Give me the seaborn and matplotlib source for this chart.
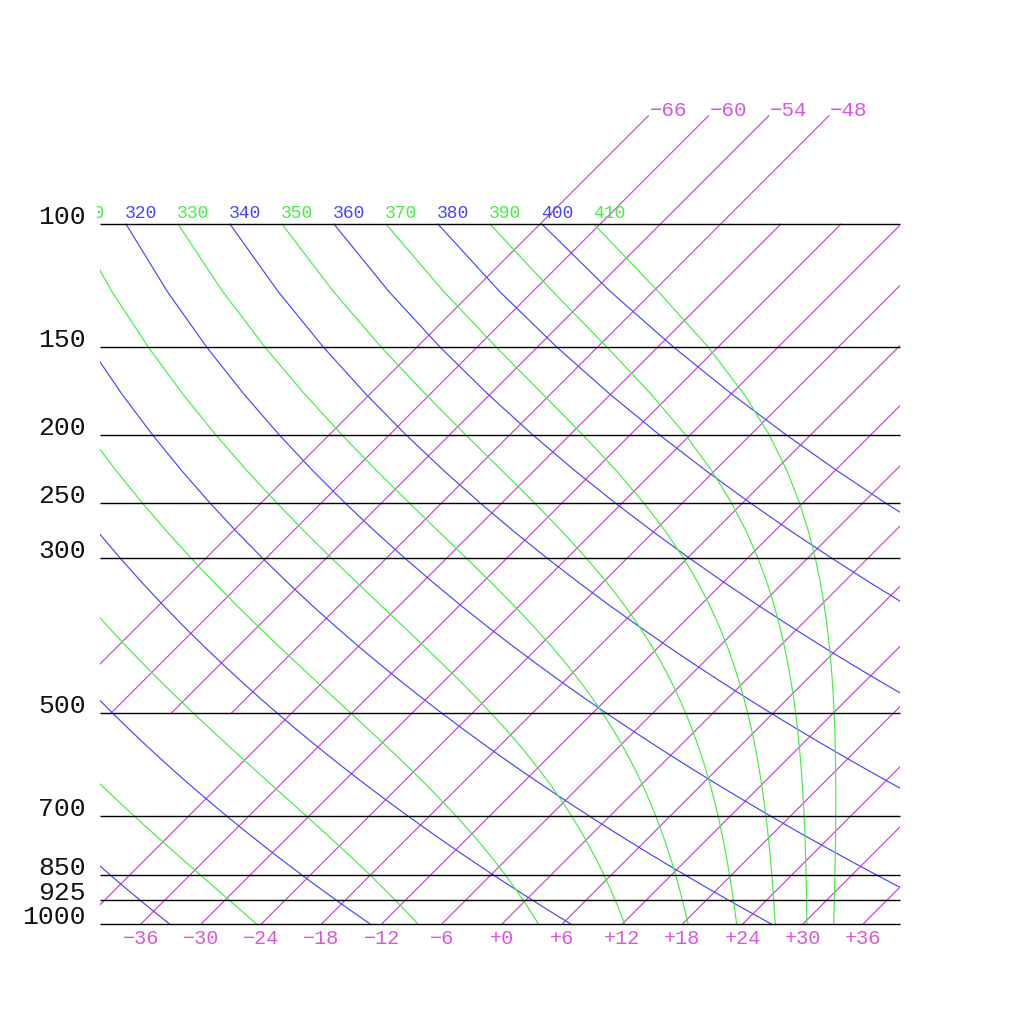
import numpy as np
import pandas as pd
import matplotlib
matplotlib.use("Agg")
import matplotlib.pyplot as plt
import seaborn as sns
from matplotlib.patches import Rectangle
from matplotlib.transforms import offset_copy

# chart values
PRESSURE_LEVELS = [1000, 925, 850, 700, 500, 300, 250, 200, 150, 100]
ISOTHERMS_LOW = [-42, -36, -30, -24, -18, -12, -6, 0, 6, 12, 18, 24, 30, 36]   # 1000 -> 100 hPa
ISOTHERMS_HIGH = [-66, -60, -54, -48]                                          # 500 -> 70 hPa
THETA_DRY = [240, 260, 280, 300, 320, 340, 360, 380, 400]
THETA_E = [250, 270, 290, 310, 330, 350, 370, 390, 410]
P_GRID = np.arange(100, 1001, 25)

# diagram geometry (skew in degC per decade of pressure)
SKEW = 69.8
XMIN, XMAX = -40.08, 39.68

ISO_COLOR = "#cc44cc"
ISO_TEXT = "#dd55dd"
DRY_COLOR = "#4646ff"
MOIST_COLOR = "#44ee44"

RD, CPD, LV, EPS = 287.04, 1005.7, 2.501e6, 0.622
KAPPA = RD / CPD


def skew_x(t, p):
    return np.asarray(t) + SKEW * np.log10(1000.0 / np.asarray(p))


def moist_lapse(t, p):
    tc = t - 273.15
    es = 6.112 * np.exp(17.67 * tc / (tc + 243.5))
    rs = EPS * es / (p - es)
    return (RD * t + LV * rs) / (p * (CPD + LV ** 2 * rs * EPS / (RD * t ** 2)))


def moist_profile(theta_e, pres):
    # start at the top where theta ~ theta_e, integrate downward
    t = theta_e * (pres[0] / 1000.0) ** KAPPA
    out = [t]
    for p0, p1 in zip(pres[:-1], pres[1:]):
        n = 20
        h = (p1 - p0) / n
        p = p0
        for _ in range(n):
            k1 = moist_lapse(t, p)
            k2 = moist_lapse(t + h * k1 / 2, p + h / 2)
            k3 = moist_lapse(t + h * k2 / 2, p + h / 2)
            k4 = moist_lapse(t + h * k3, p + h)
            t += h * (k1 + 2 * k2 + 2 * k3 + k4) / 6
            p += h
        out.append(t)
    return np.array(out) - 273.15


rows = []
for t in ISOTHERMS_LOW:
    for p in (1000, 100):
        rows.append(("iso", t, skew_x(t, p), p))
for t in ISOTHERMS_HIGH:
    for p in (500, 70):
        rows.append(("iso", t, skew_x(t, p), p))
for th in THETA_DRY:
    temps = th * (P_GRID / 1000.0) ** KAPPA - 273.15
    for t, p in zip(temps, P_GRID):
        rows.append(("dry", th, skew_x(t, p), p))
for th in THETA_E:
    temps = moist_profile(th, P_GRID)
    for t, p in zip(temps, P_GRID):
        rows.append(("moist", th, skew_x(t, p), p))
df = pd.DataFrame(rows, columns=["kind", "value", "x", "p"])

sns.set_theme(style="white")
plt.rcParams["font.family"] = ["Liberation Mono", "DejaVu Sans Mono"]

fig = plt.figure(figsize=(10.24, 10.24), dpi=100)
ax = fig.add_axes([100 / 1024, 100 / 1024, 800 / 1024, 700 / 1024])

for kind, color in [("iso", ISO_COLOR), ("dry", DRY_COLOR), ("moist", MOIST_COLOR)]:
    sns.lineplot(data=df[df["kind"] == kind], x="x", y="p", units="value",
                 estimator=None, sort=False, color=color, lw=0.85, ax=ax)

ax.set_yscale("log")
ax.set_ylim(1000, 100)
ax.set_xlim(XMIN, XMAX)
ax.axis("off")

# clip to the plot width only, so the upper isotherms can run above 100 hPa
line_clip = Rectangle((0, -0.2), 1, 1.5, transform=ax.transAxes)
text_clip = Rectangle((-0.004, -0.2), 1.004, 1.5, transform=ax.transAxes)
for line in ax.lines:
    line.set_clip_path(line_clip)

ax.hlines(PRESSURE_LEVELS, XMIN, XMAX, color="black", lw=1.0, clip_on=False)

# pressure labels
ylab_tr = offset_copy(ax.get_yaxis_transform(), fig=fig, x=-14, y=0, units="dots")
for p in PRESSURE_LEVELS:
    ax.text(0, p, str(p), transform=ylab_tr, ha="right", va="baseline",
            fontsize=19, color="#111111")

# isotherm labels along the bottom
bot_tr = offset_copy(ax.transData, fig=fig, x=0, y=-5, units="dots")
for t in ISOTHERMS_LOW:
    x0 = skew_x(t, 1000)
    if XMIN <= x0 <= XMAX:
        lab = f"{t:+d}".replace("-", "\u2212")
        ax.text(x0, 1000, lab, transform=bot_tr, ha="center", va="top",
                fontsize=14.5, color=ISO_TEXT, clip_on=False)

# isotherm labels at the top ends
top_tr = offset_copy(ax.transData, fig=fig, x=1, y=0, units="dots")
for t in ISOTHERMS_HIGH:
    lab = f"{t:d}".replace("-", "\u2212")
    ax.text(skew_x(t, 70), 70, lab, transform=top_tr, ha="left", va="baseline",
            fontsize=15, color=ISO_TEXT, clip_on=False)

# theta labels on the 100 hPa line (the leftmost one is cut by the plot edge)
th_tr = offset_copy(ax.transData, fig=fig, x=-1, y=6, units="dots")
top = df[df["p"] == 100]
for kind, color in [("dry", DRY_COLOR), ("moist", MOIST_COLOR)]:
    for _, r in top[top["kind"] == kind].iterrows():
        if r["x"] < XMIN - 3.5:
            continue
        txt = ax.text(r["x"], 100, str(int(r["value"])), transform=th_tr,
                      ha="left", va="baseline", fontsize=13, color=color,
                      clip_on=True)
        txt.set_clip_path(text_clip)

fig.savefig("out.png", dpi=100)
